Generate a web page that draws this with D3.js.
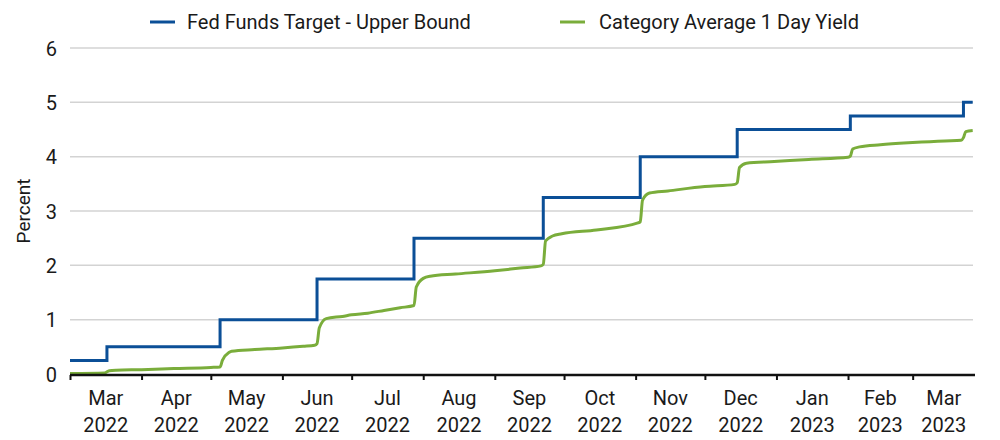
<!DOCTYPE html>
<html>
<head>
<meta charset="utf-8">
<script src="https://cdn.jsdelivr.net/npm/d3@7/dist/d3.min.js"></script>
<style>
  html, body { margin: 0; padding: 0; background: #fff; }
  svg { display: block; }
  text { font-family: Roboto, "Noto Sans", sans-serif; fill: #1a1a1a; }
</style>
</head>
<body>
<svg id="chart" width="1000" height="440"></svg>
<script>
// ---- Data ----
const seriesNames = ["Fed Funds Target - Upper Bound", "Category Average 1 Day Yield"];
const seriesColors = ["#0b4f97", "#7aad3b"];

const fedDates = ["2022-03-01","2022-03-17","2022-05-05","2022-06-16","2022-07-28","2022-09-22","2022-11-03","2022-12-15","2023-02-02","2023-03-23","2023-03-27"];
const fedValues = [0.25, 0.50, 1.00, 1.75, 2.50, 3.25, 4.00, 4.50, 4.75, 5.00, 5.00];

const yieldDates = [
  "2022-03-01","2022-03-16","2022-03-18","2022-03-21","2022-04-01","2022-04-15","2022-05-01","2022-05-05",
  "2022-05-06","2022-05-09","2022-05-10","2022-05-20","2022-06-01","2022-06-10","2022-06-15","2022-06-16",
  "2022-06-17","2022-06-20","2022-06-27","2022-07-01","2022-07-08","2022-07-15","2022-07-22","2022-07-28",
  "2022-07-29","2022-08-01","2022-08-04","2022-08-15","2022-09-01","2022-09-12","2022-09-21","2022-09-22",
  "2022-09-23","2022-09-26","2022-09-30","2022-10-15","2022-11-02","2022-11-03","2022-11-04","2022-11-07",
  "2022-11-15","2022-12-01","2022-12-14","2022-12-15","2022-12-16","2022-12-19","2022-12-31","2023-01-15",
  "2023-02-01","2023-02-02","2023-02-03","2023-02-06","2023-02-15","2023-03-01","2023-03-15","2023-03-22",
  "2023-03-23","2023-03-24","2023-03-27"
];
const yieldValues = [
  0.01, 0.02, 0.06, 0.07, 0.08, 0.10, 0.12, 0.13,
  0.25, 0.40, 0.42, 0.45, 0.48, 0.51, 0.53, 0.56,
  0.85, 1.02, 1.06, 1.09, 1.12, 1.17, 1.22, 1.26,
  1.60, 1.76, 1.80, 1.84, 1.90, 1.95, 1.99, 2.02,
  2.45, 2.54, 2.58, 2.65, 2.78, 2.80, 3.20, 3.33,
  3.37, 3.45, 3.49, 3.52, 3.80, 3.88, 3.91, 3.95,
  3.99, 4.01, 4.14, 4.18, 4.22, 4.26, 4.29, 4.30,
  4.35, 4.46, 4.48
];

const yTicks = [0, 1, 2, 3, 4, 5, 6];
const monthTicks = ["2022-03-01","2022-04-01","2022-05-01","2022-06-01","2022-07-01","2022-08-01","2022-09-01","2022-10-01","2022-11-01","2022-12-01","2023-01-01","2023-02-01","2023-03-01"];
const xDomain = ["2022-03-01", "2023-03-28"];

// ---- Layout ----
const svg = d3.select("#chart");
const margin = { left: 70, right: 25, top: 48, bottom: 66 };
const W = 1000, H = 440;
const parse = d3.utcParse("%Y-%m-%d");

const x = d3.scaleUtc().domain(xDomain.map(parse)).range([margin.left, W - margin.right]);
const y = d3.scaleLinear().domain([0, 6]).range([H - margin.bottom, margin.top]);

// gridlines
svg.append("g")
  .selectAll("line").data(yTicks.filter(d => d > 0)).join("line")
  .attr("x1", x.range()[0]).attr("x2", x.range()[1] - 2)
  .attr("y1", d => y(d)).attr("y2", d => y(d))
  .attr("stroke", "#d3d3d3").attr("stroke-width", 1.5);

// y axis labels
const yAxis = d3.axisLeft(y).tickValues(yTicks).tickSize(0).tickPadding(13).tickFormat(d3.format("d"));
const gy = svg.append("g").attr("transform", `translate(${margin.left},0)`).call(yAxis);
gy.select(".domain").remove();
gy.selectAll("text").style("font-size", "20px").attr("dy", "0.36em");

// y title
svg.append("text")
  .attr("transform", `translate(30, ${y(3)}) rotate(-90)`)
  .attr("text-anchor", "middle")
  .style("font-size", "19px")
  .text("Percent");

// lines
const fedData = fedDates.map((d, i) => ({ date: parse(d), value: fedValues[i] }));
const yieldData = yieldDates.map((d, i) => ({ date: parse(d), value: yieldValues[i] }));

svg.append("path").datum(yieldData)
  .attr("fill", "none").attr("stroke", seriesColors[1]).attr("stroke-width", 3)
  .attr("stroke-linejoin", "round")
  .attr("d", d3.line().x(d => x(d.date)).y(d => y(d.value)).curve(d3.curveMonotoneX));

svg.append("path").datum(fedData)
  .attr("fill", "none").attr("stroke", seriesColors[0]).attr("stroke-width", 3)
  .attr("d", d3.line().x(d => x(d.date)).y(d => y(d.value)).curve(d3.curveStepAfter));

// x axis
const gx = svg.append("g").attr("transform", `translate(0,${y(0) + 1})`)
  .call(d3.axisBottom(x).tickValues(monthTicks.map(parse)).tickSize(5).tickFormat(""));
gx.select(".domain").attr("stroke", "#111").attr("stroke-width", 2.5)
  .attr("d", `M${x.range()[0]},0H${x.range()[1]}`);
gx.selectAll(".tick line").attr("stroke", "#111").attr("stroke-width", 2);

// month labels centered in each month
const fmtMon = d3.utcFormat("%b"), fmtYr = d3.utcFormat("%Y");
const labels = svg.append("g");
monthTicks.map(parse).forEach((d, i) => {
  const next = d3.utcMonth.offset(d, 1);
  const cx = (x(d) + Math.min(x(next), x.range()[1])) / 2;
  const t = labels.append("text").attr("x", cx).attr("text-anchor", "middle").style("font-size", "20px");
  t.append("tspan").attr("x", cx).attr("y", 405).text(fmtMon(d));
  t.append("tspan").attr("x", cx).attr("y", 432).text(fmtYr(d));
});

// legend
const legendItems = [{ x: 150, tx: 187 }, { x: 560, tx: 599 }];
legendItems.forEach((li, i) => {
  svg.append("line").attr("x1", li.x).attr("x2", li.x + 25).attr("y1", 22).attr("y2", 22)
    .attr("stroke", seriesColors[i]).attr("stroke-width", 3);
  svg.append("text").attr("x", li.tx).attr("y", 29).style("font-size", "20px").text(seriesNames[i]);
});
</script>
</body>
</html>
